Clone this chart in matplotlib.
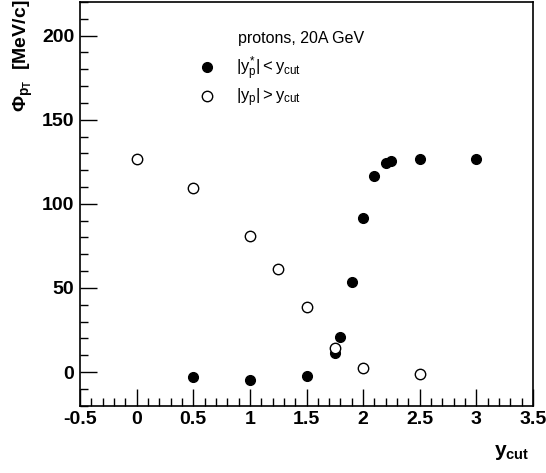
import matplotlib
matplotlib.use("Agg")
import matplotlib.pyplot as plt
from matplotlib.ticker import MultipleLocator

plt.rcParams['font.family'] = ['Liberation Sans', 'DejaVu Sans']
plt.rcParams['mathtext.fontset'] = 'custom'
plt.rcParams['mathtext.rm'] = 'Liberation Sans'
plt.rcParams['mathtext.it'] = 'Liberation Sans'
plt.rcParams['mathtext.bf'] = 'Liberation Sans:bold'

# data
ycut_in = [0.5, 1.0, 1.5, 1.75, 1.8, 1.9, 2.0, 2.1, 2.2, 2.25, 2.5, 3.0]
phi_in = [-3.2, -4.7, -2.2, 11.2, 21.0, 53.5, 91.3, 116.7, 124.4, 125.6, 126.6, 126.6]
ycut_out = [0.0, 0.5, 1.0, 1.25, 1.5, 1.75, 2.0, 2.5]
phi_out = [126.6, 109.4, 81.1, 61.4, 38.8, 14.2, 2.4, -1.0]
xticks = [-0.5, 0, 0.5, 1, 1.5, 2, 2.5, 3, 3.5]
xticklabels = ['-0.5', '0', '0.5', '1', '1.5', '2', '2.5', '3', '3.5']
yticks = [0, 50, 100, 150, 200]

fig = plt.figure(figsize=(5.46, 4.73), dpi=100)
ax = fig.add_axes([80/546, 1-405.7/473, (533-80)/546, (405.7-2)/473])

ax.plot(ycut_in, phi_in, 'o', color='black', ms=7, mec='black', ls='none',
        label=r'$|y^{*}_{p}| < y_{cut}$')
ax.plot(ycut_out, phi_out, 'o', mfc='white', mec='black', mew=1.0, ms=7.5, ls='none',
        label=r'$|y_{p}| > y_{cut}$')

ax.set_xlim(-0.5, 3.5)
ax.set_ylim(-20, 220)
ax.set_xticks(xticks)
ax.set_xticklabels(xticklabels)
ax.set_yticks(yticks)
ax.xaxis.set_minor_locator(MultipleLocator(0.1))
ax.yaxis.set_minor_locator(MultipleLocator(10))
ax.tick_params(which='both', direction='in', top=False, right=False, width=1)
ax.tick_params(which='major', length=12, labelsize=14)
ax.tick_params(axis='x', which='major', pad=4)
ax.tick_params(axis='y', which='major', pad=4)
ax.tick_params(which='minor', length=6)
for lab in ax.get_xticklabels() + ax.get_yticklabels():
    lab.set_fontweight('bold')
for s in ax.spines.values():
    s.set_linewidth(1.2)

ax.set_ylabel(r'$\mathbf{\Phi_{p_{T}}}$  [MeV/c]', fontsize=14, fontweight='bold', loc='top')
ax.yaxis.set_label_coords(-0.099, 1.005)
ax.set_xlabel(r'$\mathbf{y_{cut}}$', fontsize=15, loc='right')
ax.xaxis.set_label_coords(0.993, -0.093)

ax.text((238-80)/453, 1-(38-2)/403.7, 'protons, 20A GeV', transform=ax.transAxes,
        fontsize=11.5, ha='left', va='center')
leg = ax.legend(loc='upper left', bbox_to_anchor=((199-80)/453, 1-(55-2)/403.7),
                frameon=False, fontsize=12, handlelength=0.9, handletextpad=1.3,
                labelspacing=0.2, borderpad=0, borderaxespad=0)

fig.savefig('out.png', dpi=100)
